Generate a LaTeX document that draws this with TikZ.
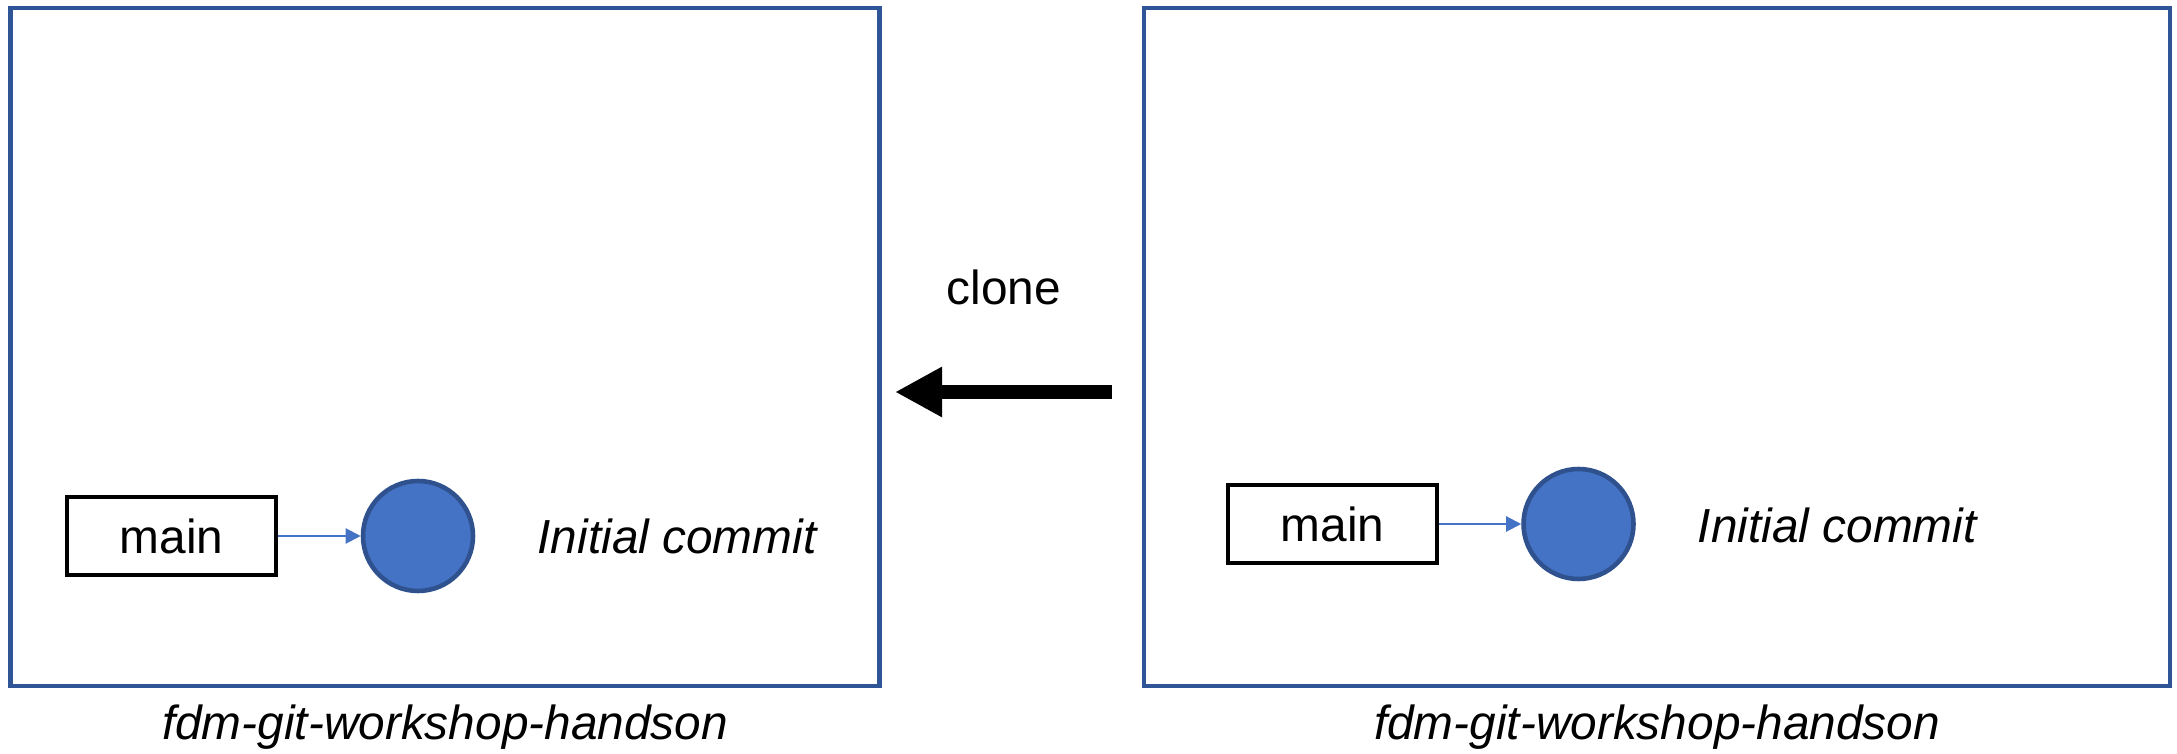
\documentclass[tikz,border=0pt]{standalone}
\usepackage{fontspec}
\setmainfont{Liberation Sans}
\usetikzlibrary{arrows.meta,positioning}
\definecolor{repoblue}{HTML}{2F5597}
\definecolor{commitfill}{HTML}{4472C4}
\definecolor{commitedge}{HTML}{2F528F}

\begin{document}
\begin{tikzpicture}[
  every node/.style={font=\fontsize{13.6}{16}\selectfont},
  repo/.style={draw=repoblue, line width=1.3pt, minimum width=8.69cm, minimum height=6.78cm, inner sep=0pt},
  branch/.style={draw=black, line width=1.3pt, minimum width=2.09cm, minimum height=0.78cm, inner sep=0pt},
  commit/.style={circle, draw=commitedge, fill=commitfill, line width=1.3pt, minimum size=1.1cm, inner sep=0pt},
  message/.style={anchor=west, inner sep=0pt, font=\fontsize{13.6}{16}\selectfont\itshape},
  pointer/.style={draw=commitfill, line width=0.6pt, -{Triangle[length=0.15cm,width=0.15cm]}}
]
\useasboundingbox (0,0) rectangle (21.77,7.54);

% local clone (left)
\node[repo] (local) at (4.45,4.07) {};
\node (localname) at (4.45,0.27) {\itshape fdm-git-workshop-handson};
\node[branch] (localmain) at (1.715,2.18) {main};
\node[commit] (localc0) at (4.18,2.18) {};
\node[message] (localmsg) at (5.37,2.18) {Initial commit};
\draw[pointer] (localmain) -- (localc0);

% remote (right)
\node[repo, minimum width=10.26cm] (remote) at (16.57,4.07) {};
\node (remotename) at (16.57,0.27) {\itshape fdm-git-workshop-handson};
\node[branch] (remotemain) at (13.325,2.30) {main};
\node[commit] (remotec0) at (15.785,2.30) {};
\node[message] (remotemsg) at (16.97,2.29) {Initial commit};
\draw[pointer] (remotemain) -- (remotec0);

% clone arrow
\coordinate (clonefrom) at (11.12,3.62);
\coordinate (cloneto) at (8.95,3.62);
\node (clonelabel) at (10.04,4.67) {clone};
\draw[line width=0.14cm, -{Triangle[length=0.47cm,width=0.47cm]}] (clonefrom) -- (cloneto);
\end{tikzpicture}
\end{document}
